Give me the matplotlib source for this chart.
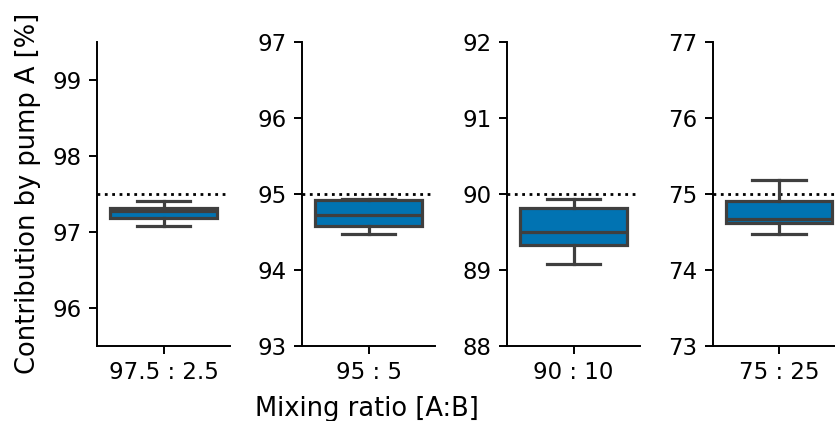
import matplotlib
matplotlib.use("Agg")
import matplotlib.pyplot as plt
import numpy as np

# Werte
ratios = ['97.5 : 2.5', '95 : 5', '90 : 10', '75 : 25']
targets = [97.5, 95.0, 90.0, 75.0]
whisker_low = [97.07, 94.47, 89.08, 74.47]
q1 = [97.18, 94.58, 89.33, 74.62]
medians = [97.28, 94.72, 89.50, 74.67]
q3 = [97.32, 94.92, 89.81, 74.90]
whisker_high = [97.40, 94.935, 89.93, 75.18]

BOX_COLOR = '#0173b2'
LINE_COLOR = '#3f3f3f'
TICK_SIZE = 16.5
LABEL_SIZE = 18.5

plt.rcParams['font.family'] = 'DejaVu Sans'
plt.rcParams['font.size'] = TICK_SIZE

fig = plt.figure(figsize=(8.35, 4.21), dpi=100)

W, H = 835, 421
left_px = [97, 302, 507, 712.5]
ax_w, ax_bottom, ax_top = 133, 345.7, 42

axes = []
for i, ratio in enumerate(ratios):
    ax = fig.add_axes([left_px[i] / W, (H - ax_bottom) / H,
                       ax_w / W, (ax_bottom - ax_top) / H])
    stats = [{
        'whislo': whisker_low[i],
        'q1': q1[i],
        'med': medians[i],
        'q3': q3[i],
        'whishi': whisker_high[i],
        'fliers': [],
    }]
    line_kw = dict(color=LINE_COLOR, linewidth=2.3)
    ax.bxp(stats, positions=[0], widths=0.8, patch_artist=True,
           boxprops=dict(facecolor=BOX_COLOR, edgecolor=LINE_COLOR, linewidth=2.3),
           medianprops=line_kw, whiskerprops=line_kw, capprops=line_kw,
           showfliers=False)
    ax.axhline(targets[i], color='black', linestyle=':', linewidth=2.0, zorder=0)

    lo, hi = targets[i] - 2, targets[i] + 2
    ax.set_xlim(-0.5, 0.5)
    ax.set_ylim(lo, hi)
    ax.set_xticks([0])
    ax.set_xticklabels([ratio])
    ax.set_yticks(np.arange(np.ceil(lo), np.floor(hi) + 1))
    ax.yaxis.set_major_formatter(plt.FormatStrFormatter('%d'))
    ax.tick_params(labelsize=TICK_SIZE, length=6, width=1.4, pad=5)
    for side in ['top', 'right']:
        ax.spines[side].set_visible(False)
    for side in ['left', 'bottom']:
        ax.spines[side].set_linewidth(1.4)
    axes.append(ax)

axes[0].set_ylabel('Contribution by pump A [%]', fontsize=LABEL_SIZE)
axes[0].yaxis.set_label_coords(-0.42, 0.5)
axes[1].set_xlabel('Mixing ratio [A:B]', fontsize=LABEL_SIZE)
axes[1].xaxis.set_label_coords(0.49, -0.165)

fig.savefig('out.png', dpi=100)
